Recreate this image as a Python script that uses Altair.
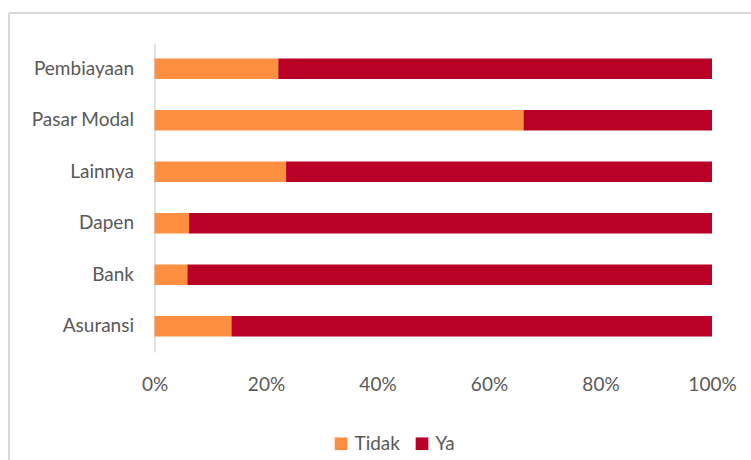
import altair as alt
import pandas as pd

categories = ["Pembiayaan", "Pasar Modal", "Lainnya", "Dapen", "Bank", "Asuransi"]
tidak = [22.2, 66.2, 23.6, 6.2, 5.9, 13.8]
ya = [100 - v for v in tidak]
series = ["Tidak", "Ya"]
colors = ["#FF8F40", "#BA0026"]
ticks = [0, 0.2, 0.4, 0.6, 0.8, 1.0]

rows = []
for c, t, y in zip(categories, tidak, ya):
    rows.append({"kategori": c, "seri": "Tidak", "nilai": t / 100, "urut": 0})
    rows.append({"kategori": c, "seri": "Ya", "nilai": y / 100, "urut": 1})
df = pd.DataFrame(rows)

FONT = "Lato"
LABEL_COLOR = "#595959"
FS = 19

bars = alt.Chart(df).mark_bar().encode(
    y=alt.Y("kategori:N", sort=categories,
            scale=alt.Scale(paddingInner=0.6, paddingOuter=0.3),
            axis=alt.Axis(title=None, ticks=False, domain=True, domainColor="#d9d9d9",
                          domainWidth=1.5, labelPadding=21, labelFontSize=FS,
                          labelFont=FONT, labelColor=LABEL_COLOR, grid=False)),
    x=alt.X("nilai:Q", stack="zero",
            scale=alt.Scale(domain=[0, 1], nice=False),
            axis=alt.Axis(title=None, format=".0%", values=ticks, ticks=False, domain=False,
                          grid=False, labelPadding=23, labelFontSize=FS, labelFont=FONT,
                          labelColor=LABEL_COLOR, labelFlush=False)),
    color=alt.Color("seri:N", sort=series,
                    scale=alt.Scale(domain=series, range=colors),
                    legend=alt.Legend(title=None, orient="none", direction="horizontal",
                                      legendX=177, legendY=391, symbolType="square",
                                      symbolSize=160, symbolStrokeWidth=0, labelFontSize=FS,
                                      labelFont=FONT, labelColor=LABEL_COLOR,
                                      columnPadding=12, labelOffset=4, symbolOpacity=1)),
    order=alt.Order("urut:Q"),
)

border_top = alt.Chart(df).mark_rule(color="#d9d9d9", strokeWidth=1.5).encode(
    x=alt.value(-145.5), x2=alt.value(700), y=alt.value(-30)
)
border_left = alt.Chart(df).mark_rule(color="#d9d9d9", strokeWidth=1.5).encode(
    x=alt.value(-145.5), y=alt.value(-30), y2=alt.value(500)
)

chart = alt.layer(border_top, border_left, bars).properties(
    width=557.5, height=309,
    background="white",
    autosize=alt.AutoSizeParams(type="none"),
    padding={"left": 154.5, "top": 43, "right": 39, "bottom": 108},
).configure_view(strokeWidth=0, stroke="transparent")

chart.save("out.html", embed_options={"renderer": "svg", "actions": False})
